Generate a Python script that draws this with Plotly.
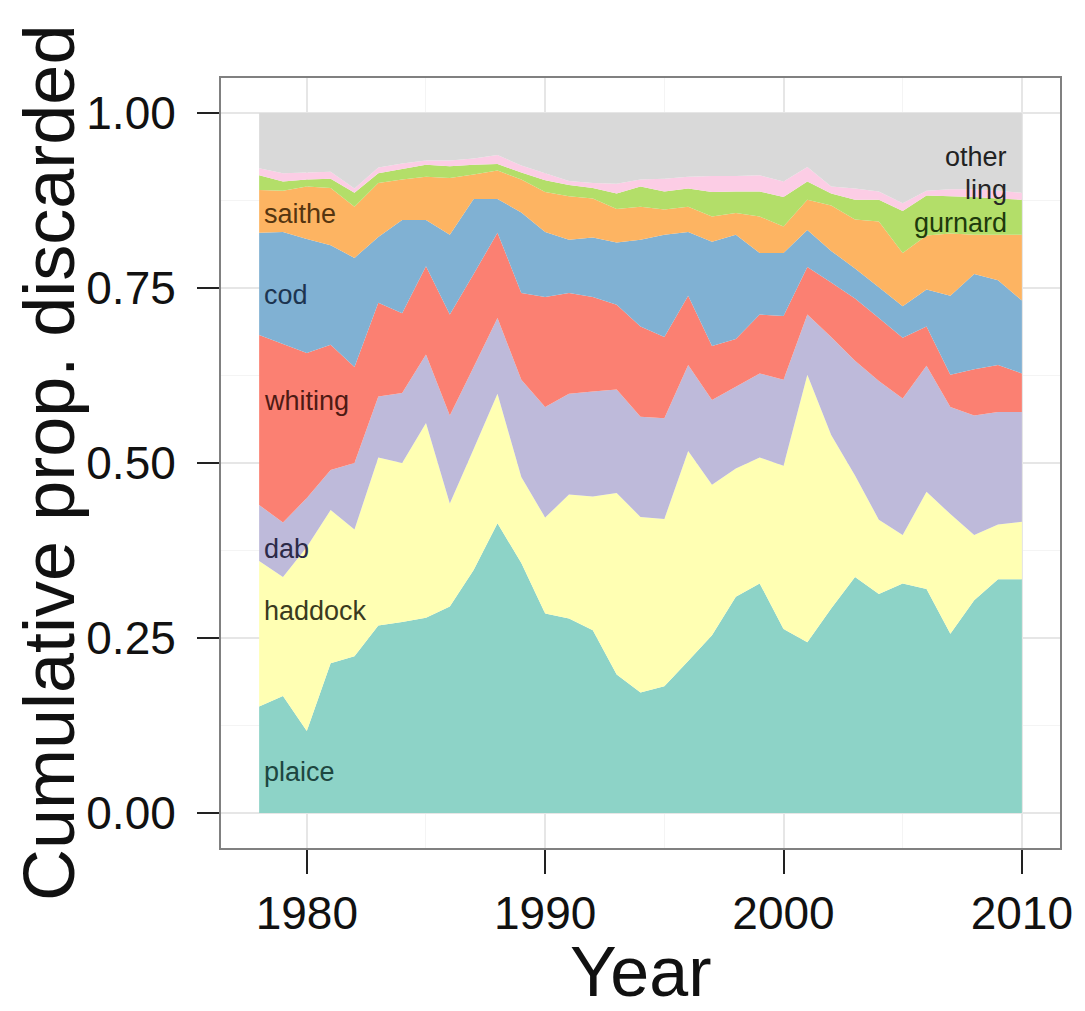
import plotly.graph_objects as go

years = list(range(1978, 2011))

plaice = [.152, .167, .117, .214, .224, .268, .273, .279, .295, .347, .414, .357, .285, .278, .261, .198, .172,
          .181, .217, .254, .309, .328, .263, .244, .292, .337, .313, .328, .320, .256, .304, .334, .334]
haddock = [.208, .170, .263, .219, .181, .240, .227, .278, .147, .173, .185, .123, .137, .177, .191, .259, .251,
           .239, .300, .215, .183, .180, .233, .382, .248, .145, .106, .069, .139, .171, .093, .078, .082]
dab = [.080, .078, .070, .057, .095, .087, .100, .098, .126, .117, .108, .139, .158, .144, .150, .148, .143,
       .144, .123, .121, .117, .120, .123, .086, .140, .164, .198, .195, .180, .153, .171, .161, .157]
whiting = [.243, .255, .207, .179, .137, .134, .114, .126, .144, .133, .122, .124, .157, .144, .135, .121, .129,
           .116, .099, .077, .068, .084, .091, .068, .078, .089, .090, .087, .056, .046, .066, .067, .055]
cod = [.146, .160, .163, .142, .156, .094, .133, .066, .114, .107, .048, .115, .093, .076, .085, .089, .124,
       .146, .091, .149, .149, .088, .090, .053, .045, .043, .044, .045, .053, .113, .136, .121, .104]
saithe = [.061, .059, .075, .082, .073, .077, .058, .062, .081, .035, .041, .047, .057, .062, .056, .048, .047,
          .036, .036, .036, .031, .052, .038, .043, .065, .070, .094, .076, .077, .089, .056, .065, .094]
gurnard = [.021, .013, .010, .013, .020, .014, .015, .017, .017, .014, .009, .010, .017, .016, .015, .022, .029,
           .026, .026, .035, .031, .036, .042, .026, .017, .028, .031, .060, .057, .053, .054, .052, .050]
ling = [.010, .012, .010, .010, .006, .008, .008, .006, .008, .009, .013, .010, .010, .006, .007, .014, .010,
        .018, .017, .023, .022, .023, .022, .021, .010, .016, .012, .011, .007, .010, .011, .011, .010]
other = [.079, .086, .085, .084, .108, .078, .072, .068, .068, .065, .060, .075, .086, .097, .100, .101, .095,
         .094, .091, .090, .090, .089, .098, .077, .105, .108, .112, .129, .111, .109, .109, .111, .114]

species = ["plaice", "haddock", "dab", "whiting", "cod", "saithe", "gurnard", "ling", "other"]
series = [plaice, haddock, dab, whiting, cod, saithe, gurnard, ling, other]
fills = ["#8DD3C7", "#FFFFB3", "#BEBADA", "#FB8072", "#80B1D3", "#FDB462", "#B3DE69", "#FCCDE5", "#D9D9D9"]
label_colors = ["#1d4640", "#3a3a1e", "#2c2a48", "#4d1a14", "#1c3450", "#553510", "#1e3a0c", "#262626", "#222222"]

# label anchor positions (cumulative proportion)
left_labels = {"saithe": 0.856, "cod": 0.740, "whiting": 0.589, "dab": 0.377, "haddock": 0.289, "plaice": 0.058}
right_labels = {"other": 0.937, "ling": 0.890, "gurnard": 0.843}

fig = go.Figure()
for name, vals, col in zip(species, series, fills):
    fig.add_trace(go.Scatter(
        x=years, y=vals, name=name, mode="none", stackgroup="one",
        fillcolor=col, line=dict(width=0), hoverinfo="x+y+name",
    ))

font_family = "Liberation Sans, Arial, sans-serif"
annotations = []
for name, yv in left_labels.items():
    annotations.append(dict(x=1978.1, y=yv, xref="x", yref="y", text=name, showarrow=False,
                            xanchor="left", yanchor="middle",
                            font=dict(size=27, family=font_family,
                                      color=label_colors[species.index(name)])))
for name, yv in right_labels.items():
    annotations.append(dict(x=2009.45, y=yv, xref="x", yref="y", text=name, showarrow=False,
                            xanchor="right", yanchor="middle",
                            font=dict(size=27, family=font_family,
                                      color=label_colors[species.index(name)])))
annotations.append(dict(x=0.5, y=0, xref="paper", yref="paper", text="Year", showarrow=False,
                        xanchor="center", yanchor="middle", yshift=-124,
                        font=dict(size=70, family=font_family, color="#111111")))
annotations.append(dict(x=0, y=0.5, xref="paper", yref="paper", text="Cumulative prop. discarded",
                        showarrow=False, textangle=-90, xanchor="center", yanchor="middle", xshift=-172,
                        font=dict(size=72, family=font_family, color="#111111")))

fig.update_layout(
    width=1085, height=1011,
    margin=dict(l=221, r=17, t=78, b=163),
    paper_bgcolor="white", plot_bgcolor="white",
    showlegend=False,
    annotations=annotations,
    xaxis=dict(
        range=[1976.4, 2011.6], tickvals=[1980, 1990, 2000, 2010],
        showgrid=True, gridcolor="#e6e6e6", gridwidth=1.5, zeroline=False,
        minor=dict(tickvals=[1985, 1995, 2005], showgrid=True, gridcolor="#f4f4f4", gridwidth=1),
        ticks="outside", ticklen=24, tickwidth=2, tickcolor="#222222",
        ticklabelstandoff=0,
        tickfont=dict(size=46, family=font_family, color="#111111"),
        showline=True, linecolor="#808080", linewidth=2, mirror=True,
    ),
    yaxis=dict(
        range=[-0.05, 1.05], tickvals=[0, 0.25, 0.5, 0.75, 1.0], tickformat=".2f",
        showgrid=True, gridcolor="#e6e6e6", gridwidth=1.5, zeroline=False,
        minor=dict(tickvals=[0.125, 0.375, 0.625, 0.875], showgrid=True, gridcolor="#f4f4f4", gridwidth=1),
        ticks="outside", ticklen=22, tickwidth=2, tickcolor="#222222",
        ticklabelstandoff=12,
        tickfont=dict(size=46, family=font_family, color="#111111"),
        showline=True, linecolor="#808080", linewidth=2, mirror=True,
    ),
)

fig.write_html("out.html")
